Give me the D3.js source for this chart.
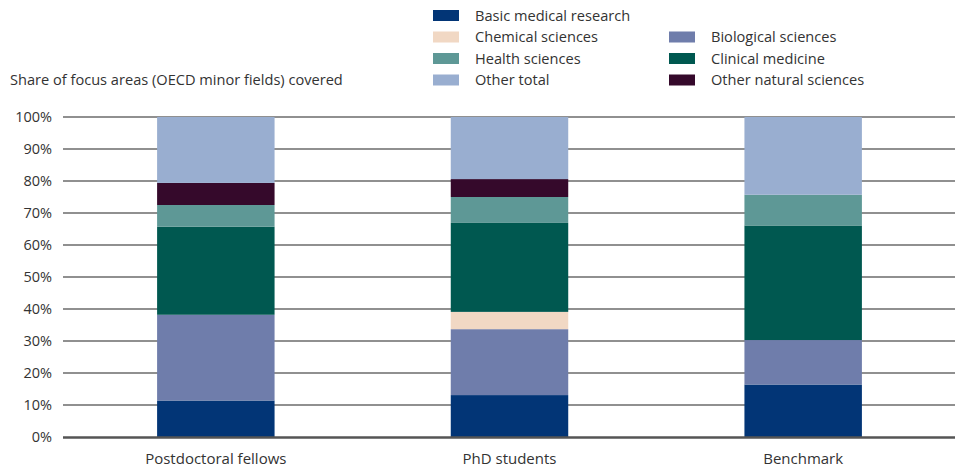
<!DOCTYPE html>
<html>
<head>
<meta charset="utf-8">
<script src="https://cdn.jsdelivr.net/npm/d3@7"></script>
<style>
  body { margin: 0; background: #fff; }
  text { font-family: "Open Sans", sans-serif; fill: #333; }
</style>
</head>
<body>
<div id="chart"></div>
<script>
// data (share in %)
var groups = ["Postdoctoral fellows", "PhD students", "Benchmark"];
var fields = ["Basic medical research", "Biological sciences", "Chemical sciences",
    "Clinical medicine", "Health sciences", "Other natural sciences", "Other total"];
var basicMedical = [11.4, 13.1, 16.4];
var biological = [26.8, 20.6, 13.9];
var chemical = [0, 5.4, 0];
var clinical = [27.5, 27.8, 35.8];
var health = [6.8, 8.1, 9.6];
var otherNatural = [6.9, 5.6, 0];
var otherTotal = [20.6, 19.4, 24.3];
var yTicks = [0, 10, 20, 30, 40, 50, 60, 70, 80, 90, 100];

var colors = {
    "Basic medical research": "#023576",
    "Biological sciences": "#6f7dab",
    "Chemical sciences": "#f1d8c4",
    "Clinical medicine": "#005850",
    "Health sciences": "#5e9896",
    "Other natural sciences": "#35092b",
    "Other total": "#99aed0"
};
// legend layout: [field, column, row]
var legendItems = [
    ["Basic medical research", 0, 0],
    ["Chemical sciences", 0, 1],
    ["Health sciences", 0, 2],
    ["Other total", 0, 3],
    ["Biological sciences", 1, 1],
    ["Clinical medicine", 1, 2],
    ["Other natural sciences", 1, 3]
];

(function () {
    var width = 955;
    var height = 467;
    var plotTop = 117, plotBottom = 437, left = 63;

    var table = groups.map(function (g, i) {
        return {
            group: g,
            "Basic medical research": basicMedical[i],
            "Biological sciences": biological[i],
            "Chemical sciences": chemical[i],
            "Clinical medicine": clinical[i],
            "Health sciences": health[i],
            "Other natural sciences": otherNatural[i],
            "Other total": otherTotal[i]
        };
    });

    var series = d3.stack().keys(fields)(table);

    var svg = d3.select("#chart")
        .append("svg")
        .attr("width", width)
        .attr("height", height);

    var xScale = d3.scaleBand()
        .domain(groups)
        .range([69, 950])
        .paddingInner(0.6)
        .paddingOuter(0.3);

    var yScale = d3.scaleLinear()
        .domain([0, 100])
        .range([plotBottom, plotTop]);

    // gridlines
    svg.append("g")
        .selectAll("line")
        .data(yTicks.filter(function (d) { return d > 0; }))
        .enter()
        .append("line")
        .attr("x1", left)
        .attr("x2", width)
        .attr("y1", function (d) { return yScale(d); })
        .attr("y2", function (d) { return yScale(d); })
        .attr("stroke", "#6b6b6b")
        .attr("stroke-width", 1.5);

    // bars
    svg.append("g")
        .selectAll("g")
        .data(series)
        .enter()
        .append("g")
        .attr("fill", function (d) { return colors[d.key]; })
        .selectAll("rect")
        .data(function (d) { return d; })
        .enter()
        .append("rect")
        .attr("x", function (d) { return xScale(d.data.group); })
        .attr("y", function (d) { return yScale(d[1]); })
        .attr("width", xScale.bandwidth())
        .attr("height", function (d) { return yScale(d[0]) - yScale(d[1]); });

    // baseline
    svg.append("line")
        .attr("x1", left)
        .attr("x2", width)
        .attr("y1", yScale(0) + 0.5)
        .attr("y2", yScale(0) + 0.5)
        .attr("stroke", "#555")
        .attr("stroke-width", 2.5);

    // y tick labels
    svg.append("g")
        .selectAll("text")
        .data(yTicks)
        .enter()
        .append("text")
        .attr("x", 52)
        .attr("y", function (d) { return yScale(d) + 5; })
        .attr("text-anchor", "end")
        .style("font-size", "14.5px")
        .text(function (d) { return d + "%"; });

    // x labels
    svg.append("g")
        .selectAll("text")
        .data(groups)
        .enter()
        .append("text")
        .attr("x", function (d) { return xScale(d) + xScale.bandwidth() / 2; })
        .attr("y", 464)
        .attr("text-anchor", "middle")
        .style("font-size", "15px")
        .text(function (d) { return d; });

    // axis title
    svg.append("text")
        .attr("x", 10)
        .attr("y", 85)
        .style("font-size", "14.6px")
        .text("Share of focus areas (OECD minor fields) covered");

    // legend
    var legend = svg.append("g")
        .selectAll("g")
        .data(legendItems)
        .enter()
        .append("g")
        .attr("transform", function (d) {
            return "translate(" + (433 + d[1] * 236) + "," + (10 + d[2] * 21.5) + ")";
        });

    legend.append("rect")
        .attr("width", 26)
        .attr("height", 11)
        .attr("fill", function (d) { return colors[d[0]]; });

    legend.append("text")
        .attr("x", 42)
        .attr("y", 10.5)
        .style("font-size", "14.6px")
        .text(function (d) { return d[0]; });
})();
</script>
</body>
</html>
